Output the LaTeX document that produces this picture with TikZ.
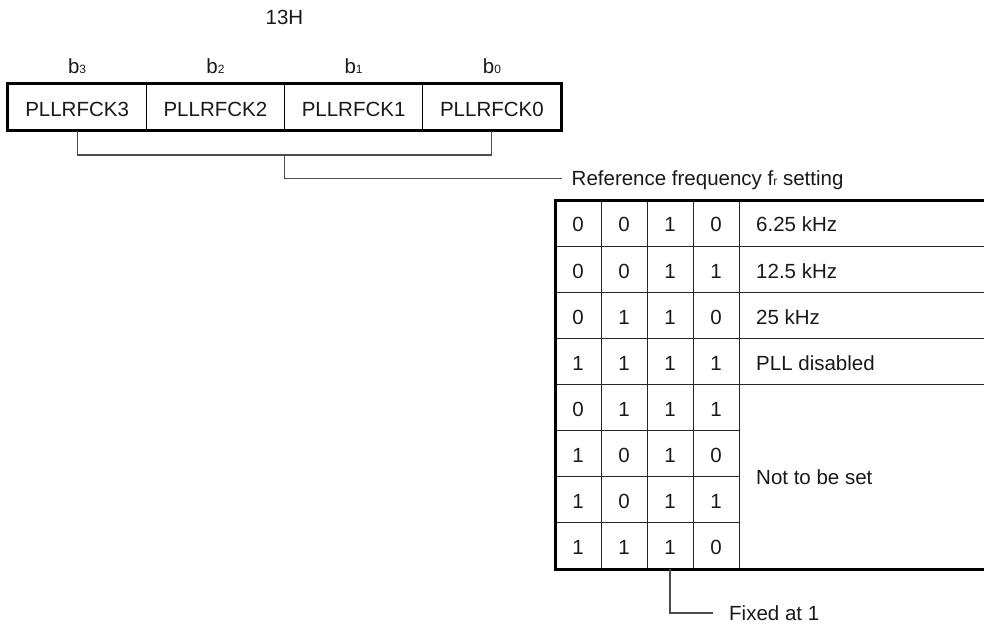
\documentclass[tikz,border=0pt]{standalone}
\usepackage{fontspec}
\setmainfont{Liberation Sans}
\newcommand\smallsub[1]{{\fontsize{12}{12}\selectfont #1}}
\begin{document}
\begin{tikzpicture}[x=1pt,y=-1pt,
  font=\fontsize{20.5}{24}\selectfont,
  lbl/.style={inner sep=0pt, text height=14.7pt, text depth=0pt, text=black!90},
  regcell/.style={draw=black, line width=1pt, minimum width=138.25pt, minimum height=46pt, inner sep=0pt},
  thickb/.style={line width=3pt, line join=miter},
  thinl/.style={line width=1pt, black!85},
  conn/.style={line width=1.1pt, black!70}]
\useasboundingbox (0,0) rectangle (984,630);
% address
\node[lbl] (addr) at (284.5,17) {13H};
% bit labels
\node[lbl] (b3) at (77.1,66.5) {b\smallsub{3}};
\node[lbl] (b2) at (215.4,66.5) {b\smallsub{2}};
\node[lbl] (b1) at (353.6,66.5) {b\smallsub{1}};
\node[lbl] (b0) at (491.9,66.5) {b\smallsub{0}};
% register cells
\node[regcell] (r3) at (77.1,107) {};
\node[regcell] (r2) at (215.4,107) {};
\node[regcell] (r1) at (353.6,107) {};
\node[regcell] (r0) at (491.9,107) {};
\node[lbl] (t3) at (77.1,109.5) {PLLRFCK3};
\node[lbl] (t2) at (215.4,109.5) {PLLRFCK2};
\node[lbl] (t1) at (353.6,109.5) {PLLRFCK1};
\node[lbl] (t0) at (491.9,109.5) {PLLRFCK0};
\draw[thickb] (r3.north west) rectangle (r0.south east);
% bracket
\coordinate (bm) at (284.5,155);
\draw[conn] (r3.south) |- (bm) -| (r0.south);
\node[lbl, anchor=west, inner xsep=9.5pt] (ref) at (562,178.5) {Reference frequency f\smallsub{r} setting};
\draw[conn] (bm) |- (ref.west);
% table lines
\foreach \y in {246.1,292.25,338.4,384.5} \draw[thinl] (555,\y) -- (984,\y);
\foreach \y in {430.6,476.75,522.9} \draw[thinl] (555,\y) -- (739,\y);
\foreach \x in {601,647,693,739} \draw[thinl] (\x,200) -- (\x,569);
\draw[thickb] (984,200) -- (555,200) -- (555,569) -- (984,569);
% table contents
\foreach \r/\a/\b/\c/\d in {1/0/0/1/0,2/0/0/1/1,3/0/1/1/0,4/1/1/1/1,5/0/1/1/1,6/1/0/1/0,7/1/0/1/1,8/1/1/1/0}{
  \pgfmathsetmacro\yy{200+46.125*(\r-0.5)+1.5}
  \node[lbl] (c-\r-1) at (578,\yy) {\a};
  \node[lbl] (c-\r-2) at (624,\yy) {\b};
  \node[lbl] (c-\r-3) at (670,\yy) {\c};
  \node[lbl] (c-\r-4) at (716,\yy) {\d};
}
\node[lbl, anchor=west] (d1) at (756,224.5) {6.25 kHz};
\node[lbl, anchor=west] (d2) at (756,270.7) {12.5 kHz};
\node[lbl, anchor=west] (d3) at (756,316.8) {25 kHz};
\node[lbl, anchor=west] (d4) at (756,362.9) {PLL disabled};
\node[lbl, anchor=west] (d5) at (756,477.5) {Not to be set};
% fixed at 1
\coordinate (fixtop) at (670,569);
\node[lbl, anchor=west, inner xsep=16pt] (fix) at (713,613) {Fixed at 1};
\draw[conn] (fixtop) |- (fix.west);
\end{tikzpicture}
\end{document}
